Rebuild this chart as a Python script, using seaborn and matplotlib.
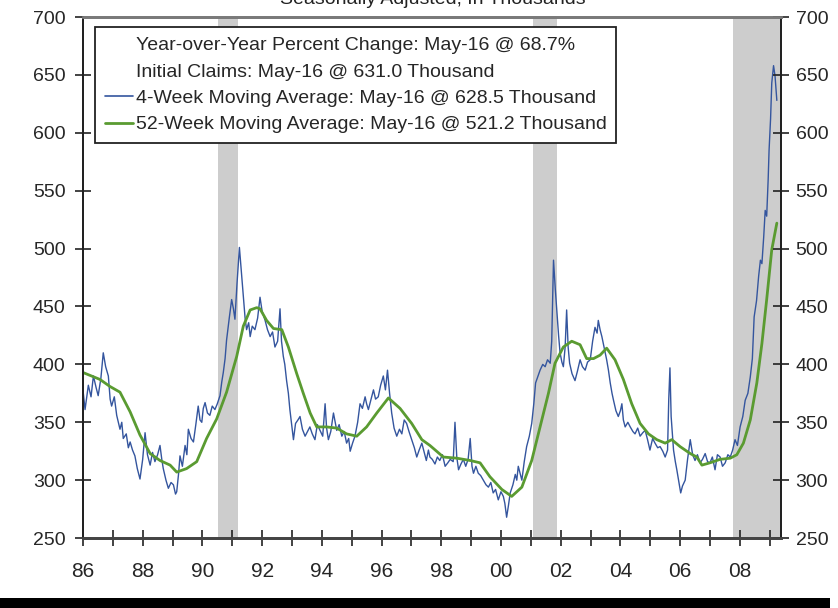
import matplotlib
matplotlib.use("Agg")
import pandas as pd
import matplotlib.pyplot as plt
from matplotlib.lines import Line2D
from matplotlib.patches import Rectangle
import seaborn as sns

# 4-week moving average of initial claims (thousands)
wk4_year = [
    1986.00, 1986.07, 1986.18, 1986.27, 1986.35, 1986.44, 1986.51, 1986.60, 1986.68, 1986.76,
    1986.85, 1986.91, 1986.96, 1987.05, 1987.13, 1987.24, 1987.30, 1987.35, 1987.45, 1987.52,
    1987.58, 1987.66, 1987.74, 1987.82, 1987.91, 1988.00, 1988.08, 1988.16, 1988.25, 1988.33,
    1988.41, 1988.50, 1988.58, 1988.64, 1988.69, 1988.78, 1988.86, 1988.95, 1989.03, 1989.10,
    1989.14, 1989.20, 1989.25, 1989.33, 1989.42, 1989.48, 1989.53, 1989.62, 1989.70, 1989.78,
    1989.86, 1989.92, 1989.98, 1990.03, 1990.09, 1990.17, 1990.25, 1990.33, 1990.42, 1990.50,
    1990.59, 1990.65, 1990.70, 1990.76, 1990.81, 1990.90, 1990.98, 1991.04, 1991.09, 1991.16,
    1991.24, 1991.30, 1991.37, 1991.43, 1991.48, 1991.55, 1991.60, 1991.67, 1991.76, 1991.85,
    1991.93, 1992.00, 1992.10, 1992.18, 1992.27, 1992.35, 1992.43, 1992.52, 1992.60, 1992.65,
    1992.71, 1992.76, 1992.82, 1992.88, 1992.93, 1993.00, 1993.05, 1993.12, 1993.20, 1993.27,
    1993.35, 1993.44, 1993.52, 1993.60, 1993.68, 1993.77, 1993.85, 1993.94, 1994.03, 1994.11,
    1994.16, 1994.22, 1994.30, 1994.39, 1994.45, 1994.50, 1994.58, 1994.67, 1994.75, 1994.83,
    1994.90, 1994.95, 1995.03, 1995.11, 1995.20, 1995.28, 1995.36, 1995.45, 1995.50, 1995.56,
    1995.65, 1995.73, 1995.80, 1995.89, 1995.97, 1996.06, 1996.13, 1996.20, 1996.27, 1996.34,
    1996.42, 1996.51, 1996.60, 1996.68, 1996.76, 1996.84, 1996.92, 1997.01, 1997.10, 1997.18,
    1997.26, 1997.35, 1997.45, 1997.50, 1997.57, 1997.62, 1997.70, 1997.79, 1997.87, 1997.95,
    1998.04, 1998.13, 1998.22, 1998.30, 1998.40, 1998.46, 1998.52, 1998.58, 1998.66, 1998.74,
    1998.82, 1998.90, 1998.97, 1999.03, 1999.08, 1999.16, 1999.24, 1999.32, 1999.41, 1999.50,
    1999.58, 1999.66, 1999.74, 1999.82, 1999.91, 2000.00, 2000.08, 2000.13, 2000.19, 2000.25,
    2000.31, 2000.40, 2000.48, 2000.53, 2000.58, 2000.64, 2000.70, 2000.78, 2000.86, 2000.95,
    2001.03, 2001.10, 2001.16, 2001.24, 2001.31, 2001.40, 2001.48, 2001.56, 2001.65, 2001.70,
    2001.76, 2001.82, 2001.87, 2001.93, 2001.98, 2002.04, 2002.09, 2002.15, 2002.20, 2002.25,
    2002.30, 2002.38, 2002.48, 2002.56, 2002.65, 2002.73, 2002.82, 2002.90, 2002.99, 2003.07,
    2003.15, 2003.22, 2003.26, 2003.32, 2003.38, 2003.46, 2003.54, 2003.60, 2003.66, 2003.72,
    2003.77, 2003.85, 2003.93, 2004.00, 2004.05, 2004.10, 2004.16, 2004.25, 2004.33, 2004.42,
    2004.49, 2004.58, 2004.66, 2004.75, 2004.83, 2004.91, 2004.99, 2005.08, 2005.16, 2005.25,
    2005.33, 2005.42, 2005.50, 2005.58, 2005.62, 2005.66, 2005.70, 2005.78, 2005.84, 2005.89,
    2005.95, 2006.02, 2006.08, 2006.17, 2006.25, 2006.34, 2006.42, 2006.50, 2006.58, 2006.67,
    2006.75, 2006.84, 2006.92, 2007.00, 2007.08, 2007.17, 2007.25, 2007.34, 2007.42, 2007.51,
    2007.60, 2007.68, 2007.76, 2007.84, 2007.92, 2008.01, 2008.10, 2008.18, 2008.27, 2008.35,
    2008.42, 2008.48, 2008.56, 2008.63, 2008.69, 2008.74, 2008.80, 2008.85, 2008.90, 2008.95,
    2008.98, 2009.03, 2009.07, 2009.13, 2009.18, 2009.24,
]
wk4_claims = [
    378, 361, 382, 372, 390, 380, 373, 388, 410, 398,
    390, 370, 364, 372, 356, 344, 350, 336, 340, 328,
    333, 326, 321, 310, 301, 318, 341, 322, 313, 324,
    316, 322, 330, 318, 310, 300, 293, 298, 296, 288,
    290, 305, 321, 312, 330, 322, 344, 336, 333, 348,
    364, 352, 350, 362, 367, 358, 356, 364, 361, 366,
    373, 385, 393, 405, 421, 440, 456, 448, 439, 470,
    501, 482, 460, 440, 430, 436, 424, 433, 430, 440,
    458, 446, 438, 430, 424, 428, 415, 420, 448, 420,
    407, 400, 386, 375, 361, 346, 335, 349, 352, 355,
    344, 338, 342, 346, 340, 335, 348, 343, 338, 366,
    345, 335, 342, 358, 350, 343, 348, 338, 342, 332,
    336, 325, 332, 338, 350, 366, 362, 372, 366, 361,
    370, 378, 370, 372, 382, 390, 378, 395, 375, 358,
    345, 338, 344, 340, 352, 349, 342, 335, 328, 320,
    326, 332, 322, 317, 326, 320, 318, 314, 320, 317,
    322, 312, 315, 318, 316, 350, 320, 309, 314, 318,
    312, 318, 336, 312, 306, 312, 306, 304, 300, 296,
    294, 298, 289, 292, 283, 290, 286, 280, 268, 278,
    289, 296, 305, 300, 312, 306, 300, 316, 329, 338,
    349, 366, 384, 390, 395, 400, 398, 404, 401, 420,
    490, 465, 447, 425, 410, 402, 398, 415, 447, 415,
    401, 392, 386, 394, 404, 398, 395, 402, 404, 420,
    432, 427, 438, 430, 424, 414, 404, 395, 384, 375,
    369, 360, 355, 360, 366, 352, 346, 350, 346, 342,
    340, 345, 338, 341, 343, 335, 326, 336, 332, 328,
    329, 325, 320, 326, 370, 397, 355, 326, 316, 309,
    300, 289, 295, 300, 318, 335, 322, 317, 322, 315,
    318, 323, 316, 315, 320, 309, 322, 320, 312, 315,
    322, 320, 326, 335, 330, 346, 355, 369, 375, 389,
    405, 441, 455, 476, 490, 487, 510, 533, 528, 560,
    585, 612, 643, 658, 649, 628,
]

# 52-week moving average
wk52_year = [
    1986.00, 1986.57, 1986.90, 1987.24, 1987.58, 1987.91, 1988.25, 1988.58, 1988.92, 1989.14,
    1989.47, 1989.81, 1990.14, 1990.48, 1990.81, 1991.15, 1991.37, 1991.60, 1991.82, 1991.93,
    1992.15, 1992.38, 1992.66, 1992.88, 1993.16, 1993.38, 1993.61, 1993.83, 1994.16, 1994.50,
    1994.83, 1995.17, 1995.50, 1995.84, 1996.23, 1996.62, 1997.01, 1997.35, 1997.62, 1998.07,
    1998.52, 1998.97, 1999.30, 1999.63, 2000.03, 2000.36, 2000.70, 2001.03, 2001.31, 2001.59,
    2001.81, 2002.09, 2002.37, 2002.65, 2002.87, 2003.10, 2003.32, 2003.54, 2003.82, 2004.10,
    2004.38, 2004.66, 2004.94, 2005.22, 2005.50, 2005.72, 2006.00, 2006.34, 2006.56, 2006.73,
    2007.00, 2007.34, 2007.68, 2007.90, 2008.12, 2008.35, 2008.57, 2008.74, 2008.90, 2009.07,
    2009.24,
]
wk52_claims = [
    393, 387, 381, 376, 359, 339, 323, 317, 313, 307,
    310, 316, 336, 353, 376, 407, 433, 447, 449, 448,
    438, 431, 430, 415, 392, 375, 358, 346, 346, 345,
    340, 338, 346, 358, 371, 362, 349, 335, 330, 320,
    319, 317, 315, 303, 292, 286, 294, 317, 346, 375,
    401, 415, 420, 417, 405, 405, 408, 414, 404, 387,
    366, 349, 340, 335, 332, 335, 329, 323, 320, 313,
    315, 318, 319, 322, 332, 352, 384, 418, 456, 499,
    522,
]

# recessions (shaded)
rec_start = [1990.52, 2001.08, 2007.78]
rec_end = [1991.19, 2001.88, 2009.40]

x_ticks = list(range(1986, 2010))
x_labels = ["86", "88", "90", "92", "94", "96", "98", "00", "02", "04", "06", "08"]
y_ticks = [250, 300, 350, 400, 450, 500, 550, 600, 650, 700]

legend_text = [
    "Year-over-Year Percent Change: May-16 @ 68.7%",
    "Initial Claims: May-16 @ 631.0 Thousand",
    "4-Week Moving Average: May-16 @ 628.5 Thousand",
    "52-Week Moving Average: May-16 @ 521.2 Thousand",
]

BLUE = "#34559e"
GREEN = "#5a9b31"

sns.set_style("ticks")
plt.rcParams["font.family"] = ["Liberation Sans", "DejaVu Sans"]

fig = plt.figure(figsize=(8.38, 6.08), dpi=100)
ax = fig.add_axes([0.099, 0.115, 0.833, 0.857])

for s, e in zip(rec_start, rec_end):
    ax.axvspan(s, e, color="#cdcdcd", lw=0, zorder=0)

df4 = pd.DataFrame({"year": wk4_year, "claims": wk4_claims})
df52 = pd.DataFrame({"year": wk52_year, "claims": wk52_claims})
sns.lineplot(data=df4, x="year", y="claims", ax=ax, color=BLUE, lw=1.0,
             estimator=None, sort=False, zorder=3)
sns.lineplot(data=df52, x="year", y="claims", ax=ax, color=GREEN, lw=2.0,
             estimator=None, sort=False, zorder=4)

ax.set_xlim(1986, 2009.38)
ax.set_ylim(250, 700)
ax.set_xlabel("")
ax.set_ylabel("")

ax.set_xticks(x_ticks[::2])
ax.set_xticklabels(x_labels, fontsize=15)
ax.set_xticks(x_ticks[1::2], minor=True)
ax.tick_params(axis="x", which="both", direction="inout", length=11, width=1.2,
               color="#222222", pad=12)
ax.set_yticks(y_ticks)
ax.tick_params(axis="y", direction="inout", length=11, width=1.2, color="#222222",
               labelsize=14, pad=7)

ax2 = ax.twinx()
ax2.set_ylim(250, 700)
ax2.set_yticks(y_ticks)
ax2.tick_params(axis="y", direction="inout", length=11, width=1.2, color="#222222",
                labelsize=14, pad=5)

for a in (ax, ax2):
    a.spines["left"].set_color("#222222")
    a.spines["right"].set_color("#222222")
    a.spines["left"].set_linewidth(1.4)
    a.spines["right"].set_linewidth(1.4)
    a.spines["top"].set_color("#7a7a7a")
    a.spines["top"].set_linewidth(2.0)
    a.spines["bottom"].set_color("#444444")
    a.spines["bottom"].set_linewidth(2.0)
    a.spines["top"].set_visible(True)
    a.spines["right"].set_visible(True)

handles = [
    Line2D([], [], color="none"),
    Line2D([], [], color="none"),
    Line2D([], [], color=BLUE, lw=1.2),
    Line2D([], [], color=GREEN, lw=2.0),
]
leg = ax.legend(handles, legend_text, loc="upper left", bbox_to_anchor=(0.017, 0.981),
                frameon=True, fancybox=False, framealpha=1, edgecolor="#222222",
                prop={"size": 14}, handlelength=1.45, handletextpad=0.15,
                labelspacing=0.45, borderpad=0.5, borderaxespad=0)
leg.get_frame().set_linewidth(1.3)
leg.set_zorder(10)

# title cut off at the top of the image
fig.text(0.516, 0.993, "Seasonally Adjusted, In Thousands", ha="center",
         va="baseline", fontsize=14, color="#222222")

# black band at the bottom edge
fig.add_artist(Rectangle((0, 0), 0.99, 10 / 608, transform=fig.transFigure,
                         color="black", lw=0))

fig.savefig("out.png", dpi=100)
